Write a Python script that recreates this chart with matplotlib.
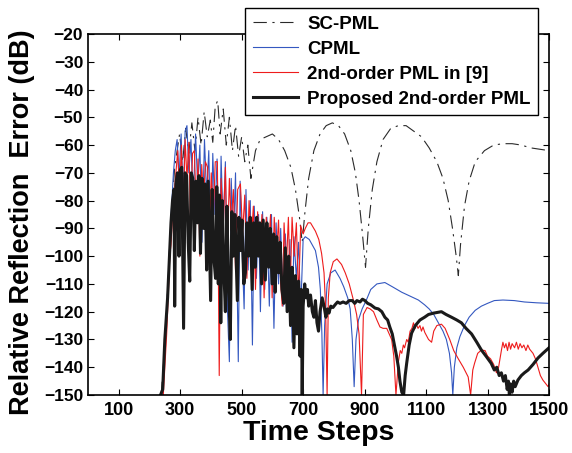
import numpy as np
import matplotlib
matplotlib.use("Agg")
import matplotlib.pyplot as plt

# SC-PML (dash-dot)
sc_x = [238, 245, 252, 258, 264, 270, 276, 282, 290,
        298, 308, 318, 328, 338, 348, 358, 368, 378, 388, 398, 406, 414, 422, 430,
        440, 450, 460, 470, 480, 490, 500, 510, 520, 530, 545, 560,
        580, 600, 620, 640, 660, 675, 688, 697, 706, 718, 735, 755, 775, 795, 815,
        835, 855, 870, 882, 893, 903, 912, 925, 940, 960, 985, 1010, 1035, 1060,
        1085, 1110, 1135, 1155, 1172, 1186, 1198, 1205, 1212, 1225, 1240, 1260,
        1290, 1320, 1350, 1380, 1410, 1440, 1470, 1500]
sc_y = [-150, -140, -128, -115, -100, -88, -78, -68, -62,
        -56, -66, -54, -63, -52, -62, -50, -60, -48, -57, -51, -59, -46, -44, -56,
        -47, -60, -50, -62, -53, -64, -57, -66, -60, -72, -62, -58,
        -57, -56, -58, -62, -68, -76, -86, -95, -84, -72, -62, -56, -53, -52, -53,
        -56, -62, -70, -80, -92, -104, -90, -76, -66, -58, -54, -53, -53, -55,
        -57, -61, -66, -72, -80, -90, -100, -107, -96, -82, -73, -66,
        -62, -60, -59.5, -59.5, -60, -61, -61.5, -62]

# CPML
cp_x = [243, 248, 254, 260, 266, 272, 278, 284,
        290, 296, 303, 310, 316, 322, 328, 335, 342, 350, 357, 364, 371, 379, 386,
        393, 400, 406, 413, 420, 427, 433, 440, 447, 454, 460, 466, 473, 480, 489,
        495, 502, 508, 514, 521, 528, 535, 541, 548, 555, 561, 568, 575, 582, 590,
        597, 605, 612, 620, 627, 635, 642, 650, 657, 664, 670, 678, 685, 692, 700,
        707, 720, 740, 750, 756, 761, 765, 770, 778, 790, 804, 820, 832, 845, 853,
        860, 866, 872, 880, 892, 905, 920, 940, 966, 990, 1021, 1050, 1075, 1095,
        1110, 1125, 1140, 1155, 1166, 1176, 1183, 1187, 1192, 1200, 1210, 1225,
        1240, 1260, 1280, 1300, 1322, 1350, 1387, 1420, 1460, 1500]
cp_y = [-150, -138, -125, -110, -96, -82, -70, -62,
        -58, -72, -56, -80, -55, -53, -70, -58, -82, -56, -75, -60, -95, -58, -78,
        -62, -100, -63, -85, -65, -110, -64, -90, -66, -120, -138, -72, -95, -70, -138,
        -73, -100, -119, -76, -105, -80, -132, -82, -108, -85, -120, -84, -112, -86, -118,
        -85, -126, -88, -110, -90, -118, -92, -112, -94, -131, -93, -108, -95, -120, -94,
        -93, -94, -98, -104, -112, -128, -150, -125, -110, -106, -105, -108, -111, -115, -119,
        -130, -147, -130, -123, -119, -116, -112, -110, -109.5, -111, -113, -114.5, -115.8, -117.5,
        -119, -121, -124, -127, -130, -135, -142, -150, -140, -133, -129, -125,
        -122, -119.5, -118, -117, -116, -115.8, -116, -116.5, -116.8, -117]

# 2nd-order PML in [9]
r_x = [245, 250, 256, 262, 266, 270, 274, 280, 286,
       292, 298, 304, 310, 316, 322, 328, 334, 340, 346, 352, 358, 364, 370, 376,
       382, 389, 395, 401, 408, 414, 421, 427, 433, 440, 447, 453, 460, 466, 473,
       480, 487, 496, 503, 510, 517, 524, 531, 538, 545, 552, 559, 566, 573, 580,
       587, 594, 599, 606, 613, 620, 627, 632, 638, 645, 652, 658, 664, 671, 678,
       685, 692, 700, 707, 716, 724, 740, 751, 760, 768, 773, 778, 782, 788, 798,
       810, 825, 837, 850, 864, 874, 882, 890, 896, 908, 918, 929, 940, 950, 960,
       972, 980, 988, 995, 1002, 1010, 1016, 1021, 1026, 1030, 1037, 1042, 1048,
       1054, 1059, 1064, 1068, 1074, 1080, 1085, 1090, 1096, 1108, 1118, 1125,
       1135, 1150, 1162, 1177, 1190, 1205, 1221, 1237, 1245, 1252, 1258, 1268,
       1280, 1292, 1300, 1310, 1320, 1329, 1336, 1345, 1350, 1355, 1360, 1365,
       1370, 1375, 1380, 1388, 1394, 1400, 1406, 1412, 1418, 1425, 1431, 1437,
       1448, 1456, 1464, 1472, 1480, 1490, 1497, 1500]
r_y = [-150, -140, -128, -112, -100, -96, -88, -78, -70,
       -62, -78, -60, -85, -58, -72, -59, -90, -63, -62, -82, -65, -100, -67, -80,
       -66, -68, -95, -70, -85, -66, -66, -143, -72, -90, -68, -100, -72, -88, -76,
       -105, -76, -74, -92, -78, -108, -80, -95, -82, -112, -84, -100, -85, -115, -86,
       -98, -85, -115, -86, -100, -87, -110, -118, -88, -105, -86, -112, -86, -100, -88,
       -115, -89, -92, -90, -88, -88, -91, -94, -99, -106, -118, -150, -115, -106, -102,
       -101, -103, -106, -110, -116, -121, -128, -150, -121, -118.5, -119, -120, -123, -125.5, -126,
       -126, -128, -130, -136, -150, -138, -134, -135, -132, -133, -130, -131, -127,
       -126, -124, -126, -124.5, -126, -125, -127, -125.5, -127.5, -130, -131, -127,
       -125, -124.5, -126, -130, -134, -137, -140, -143.5, -150, -141, -138.5, -135,
       -133.8, -134, -136, -137, -139, -142, -140, -134, -131, -133, -131.5, -134,
       -131, -133.5, -131.5, -133, -131, -133.5, -131.5, -133, -132, -134, -132, -133.5,
       -135, -137, -140, -143, -144.6, -146, -147, -146]

# Proposed 2nd-order PML
p_x = [236, 243, 250, 259, 265, 270, 275, 280, 282, 286, 291, 296, 300, 305, 311,
       316, 321, 326, 331, 336, 341, 346, 351, 356, 361, 366, 371, 376, 381, 386,
       391, 395, 399, 404, 409, 415, 419, 424, 428, 432, 437, 442, 447, 452, 457,
       463, 468, 473, 478, 486, 491, 496, 501, 507, 512, 517, 522, 528, 534, 539,
       544, 549, 554, 559, 565, 570, 577, 582, 588, 593, 599, 604, 609, 614, 620,
       625, 631, 637, 642, 648, 653, 659, 664, 670, 675, 680, 685, 690, 694, 697,
       700, 705, 710, 714, 718, 724, 730, 735, 740, 745, 750, 755, 762, 768, 774,
       779, 784, 790, 797, 804, 812, 820, 830, 840, 850, 860, 868, 875, 885, 893,
       901, 910, 920, 934, 945, 956, 966, 975, 982, 990, 997, 1004, 1010, 1015,
       1021, 1027, 1032, 1037, 1045, 1053, 1065, 1080, 1095, 1108, 1125, 1150,
       1165, 1183, 1200, 1215, 1230, 1248, 1265, 1280, 1295, 1312, 1322, 1330,
       1338, 1345, 1352, 1358, 1364, 1368, 1371, 1375, 1380, 1385, 1390, 1399,
       1410, 1420, 1432, 1448, 1464, 1480, 1490, 1500]
p_y = [-150, -148, -130, -115, -100, -88, -80, -76, -118, -74, -70, -100, -69, -68, -126,
       -70, -71, -95, -109, -70, -72, -98, -73, -88, -71, -99, -72, -90, -74, -105,
       -73, -94, -116, -76, -100, -108, -75, -110, -78, -124, -80, -105, -120, -82, -110,
       -130, -84, -100, -85, -116, -86, -98, -87, -110, -106, -88, -100, -86, -112, -88,
       -104, -86, -100, -88, -110, -87, -108.6, -88, -104, -90, -110, -92, -113, -93, -106,
       -95, -112, -117, -97, -120, -100, -125, -104, -133, -107, -128, -109, -136, -112, -150,
       -118, -110, -115, -112, -118, -114, -120, -122, -116, -124, -127, -120, -115, -118, -122,
       -119, -120.5, -118, -118.5, -117.5, -116.5, -117, -116.5, -117, -116, -116, -117, -116, -116.5, -115.5,
       -116, -117, -117.5, -118.7, -119, -120, -122, -123, -125.5, -128, -132, -136, -140, -145,
       -149, -150, -143, -138.5, -132, -127.7, -125, -123, -122, -121, -120.5, -120,
       -121, -122, -123, -124, -126, -128, -131, -133.8, -136, -138.6, -141, -140,
       -143, -142, -145, -143, -148, -145, -150, -146, -149, -145, -147, -144.6,
       -143, -142, -141, -139, -136.7, -135, -134, -133]

legend_labels = ["SC-PML", "CPML", "2nd-order PML in [9]", "Proposed 2nd-order PML"]

plt.rcParams['font.family'] = ['Liberation Sans', 'DejaVu Sans']
plt.rcParams['font.weight'] = 'bold'

fig = plt.figure(figsize=(5.72, 4.53), dpi=100)
ax = fig.add_axes([88 / 572, 1 - 395 / 453, (549 - 88) / 572, (395 - 34) / 453])

ax.plot(sc_x, sc_y, color='#2a2a2a', lw=0.8, linestyle=(0, (12, 5, 2, 5)), label=legend_labels[0])
ax.plot(cp_x, cp_y, color='#3458c0', lw=0.8, label=legend_labels[1])
ax.plot(r_x, r_y, color='#ee1c1c', lw=0.8, label=legend_labels[2])
ax.plot(p_x, p_y, color='#1a1a1a', lw=2.2, label=legend_labels[3])

ax.set_xlim(0, 1500)
ax.set_ylim(-150, -20)
ax.set_xticks(np.arange(100, 1501, 200))
ax.set_yticks(np.arange(-150, -19, 10))
ax.tick_params(axis='y', labelsize=12.5)
ax.tick_params(axis='x', labelsize=13, pad=5)
ax.tick_params(direction='in', top=True, right=True, length=4, width=0.8)
for lbl in ax.get_xticklabels() + ax.get_yticklabels():
    lbl.set_fontweight('bold')
for sp in ax.spines.values():
    sp.set_linewidth(1.2)

ax.set_xlabel('Time Steps', fontsize=20.5, fontweight='bold', labelpad=1)
fig.text(22 / 572, 1 - 222 / 453, 'Relative Reflection  Error (dB)', rotation=90, fontsize=19.5,
         fontweight='bold', ha='center', va='center')

leg = ax.legend(loc='upper right', bbox_to_anchor=(538 / 572, 1 - 8 / 453),
                bbox_transform=fig.transFigure, borderaxespad=0, fancybox=False,
                framealpha=1, edgecolor='black', prop={'size': 13.5, 'weight': 'bold'},
                handlelength=2.4, labelspacing=0.42, borderpad=0.4, handletextpad=0.5)
leg.get_frame().set_linewidth(1.0)
leg.legend_handles[3].set_linewidth(2.2)

fig.savefig('out.png', dpi=100)
